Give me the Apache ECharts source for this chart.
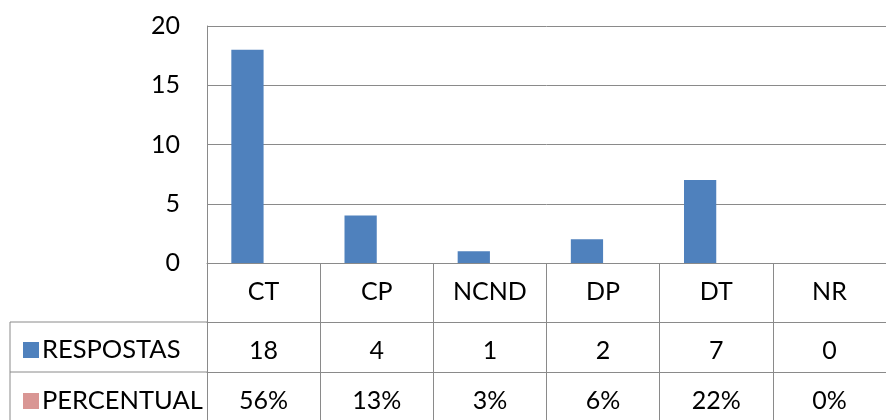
<!DOCTYPE html>
<html>
<head>
<meta charset="utf-8">
<script src="https://cdn.jsdelivr.net/npm/echarts@6/dist/echarts.min.js"></script>
<style>
  html, body { margin: 0; padding: 0; background: #fff; }
  #chart { width: 886px; height: 420px; }
</style>
</head>
<body>
<div id="chart"></div>
<script>
const categories = ["CT", "CP", "NCND", "DP", "DT", "NR"];
const respostas = [18, 4, 1, 2, 7, 0];
const percentual = ["56%", "13%", "3%", "6%", "22%", "0%"];
const yTicks = [0, 5, 10, 15, 20];

const font = "Lato, 'Open Sans', sans-serif";
const lineGray = "#8a8a8a";

const chart = echarts.init(document.getElementById("chart"));

// table rows under the plot are extra category axes pushed down with offset
function rowAxis(offset, labels) {
  return {
    type: "category",
    position: "bottom",
    offset: offset,
    data: categories,
    axisLine: { show: true, lineStyle: { color: lineGray, width: 1 } },
    axisTick: { show: false },
    axisLabel: {
      margin: 16,
      fontFamily: font,
      fontSize: 25,
      color: "#000",
      formatter: (v, i) => String(labels[i])
    }
  };
}

function legendRow(name, top) {
  return {
    left: 18,
    top: top,
    itemWidth: 16,
    itemHeight: 16,
    itemGap: 0,
    icon: "rect",
    textStyle: { fontFamily: font, fontSize: 25.5, color: "#000", padding: [0, 0, 0, -2] },
    data: [name]
  };
}

const option = {
  animation: false,
  grid: { left: 207, top: 26, right: -14, bottom: 157 },
  legend: [legendRow("RESPOSTAS", 332), legendRow("PERCENTUAL", 383)],
  xAxis: [
    {
      type: "category",
      data: categories,
      axisLine: { show: true, lineStyle: { color: lineGray, width: 1 } },
      axisTick: { show: true, length: 160, lineStyle: { color: lineGray, width: 1 } },
      axisLabel: { margin: 16, fontFamily: font, fontSize: 25, color: "#000" }
    },
    rowAxis(59, respostas),
    rowAxis(109, percentual)
  ],
  yAxis: {
    type: "value",
    min: 0,
    max: 20,
    interval: 5,
    axisLine: { show: true, lineStyle: { color: lineGray, width: 1 } },
    axisTick: { show: false },
    splitLine: { show: true, lineStyle: { color: lineGray, width: 1 } },
    axisLabel: {
      margin: 27,
      fontFamily: font,
      fontSize: 25,
      color: "#000",
      customValues: yTicks
    }
  },
  series: [
    {
      name: "RESPOSTAS",
      type: "bar",
      data: respostas,
      itemStyle: { color: "#4F81BD" },
      barGap: 0,
      barCategoryGap: "43%"
    },
    {
      // percentual has no visible bars in the original, only its slot
      name: "PERCENTUAL",
      type: "bar",
      data: percentual.map(() => null),
      itemStyle: { color: "#D99694" }
    }
  ],
  graphic: [
    { type: "line", shape: { x1: 10, y1: 322, x2: 207, y2: 322 }, style: { stroke: lineGray, lineWidth: 1 } },
    { type: "line", shape: { x1: 10, y1: 372, x2: 207, y2: 372 }, style: { stroke: lineGray, lineWidth: 1 } },
    { type: "line", shape: { x1: 10, y1: 322, x2: 10, y2: 420 }, style: { stroke: lineGray, lineWidth: 1 } }
  ]
};

chart.setOption(option);
</script>
</body>
</html>
